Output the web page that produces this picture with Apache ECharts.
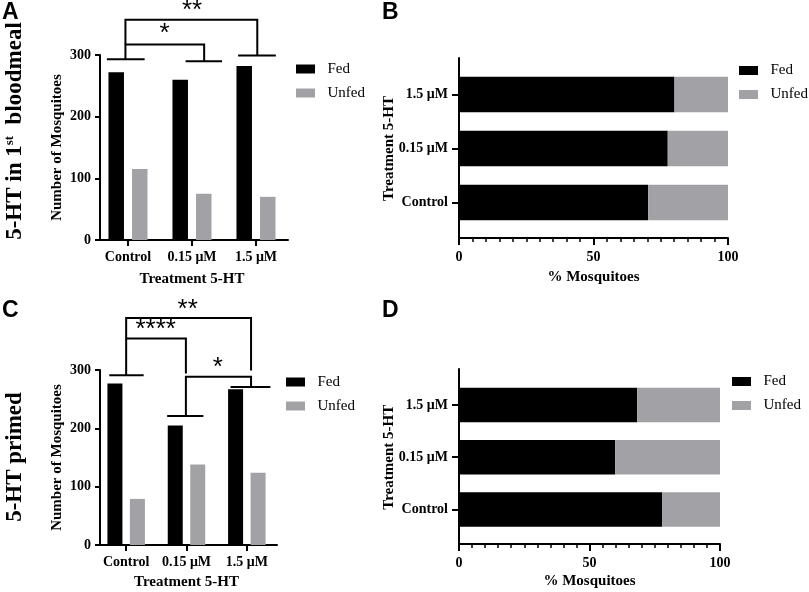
<!DOCTYPE html>
<html><head><meta charset="utf-8">
<script src="https://cdn.jsdelivr.net/npm/echarts@6.0.0/dist/echarts.min.js"></script>
<style>html,body{margin:0;padding:0;background:#fff}#c{width:809px;height:592px}</style>
</head><body><div id="c"></div>
<script>
// ---- data ----
const categories = ['Control', '0.15 μM', '1.5 μM'];
const countTicks = [0, 100, 200, 300];
const pctTicks = [0, 50, 100];
const fedA = [272, 260, 282];
const unfedA = [115, 75, 70];
const fedPctB = [70.3, 77.6, 80.1];
const unfedPctB = [29.7, 22.4, 19.9];
const fedC = [277, 205, 267];
const unfedC = [79, 138, 124];
const fedPctD = [77.8, 59.8, 68.3];
const unfedPctD = [22.2, 40.2, 31.7];
// significance brackets in data units: [category position (0..3), count]
const bracketsA = [
  [[0.17, 293], [0.76, 293]],
  [[1.40, 290], [1.97, 290]],
  [[2.22, 299], [2.81, 299]],
  [[0.46, 293], [0.46, 317], [1.69, 317], [1.69, 290]],
  [[0.46, 317], [0.46, 357], [2.52, 357], [2.52, 299]]
];
const starLabelsA = ['*', '**'];
const starPosA = [[1.07, 334], [1.50, 372]];
const bracketsC = [
  [[0.22, 291], [0.79, 291]],
  [[1.18, 221], [1.78, 221]],
  [[2.23, 271], [2.89, 271]],
  [[0.50, 291], [0.50, 354], [1.49, 354], [1.49, 294]],
  [[1.49, 221], [1.49, 288.5], [2.57, 288.5], [2.57, 271]],
  [[0.50, 354], [0.50, 389], [2.57, 389], [2.57, 299]]
];
const starLabelsC = ['**', '****', '*'];
const starPosC = [[1.52, 404], [0.99, 369], [2.02, 304]];

// ---- styles ----
const BLACK = '#000000', GRAY = '#a2a2a6';
const SERIF = 'Liberation Serif';
const SANS = 'Liberation Sans';
const lineSt = {color: BLACK, width: 2};
const labelSt = {fontFamily: SERIF, fontWeight: 'bold', fontSize: 14, color: BLACK};
const nameSt = {fontFamily: SERIF, fontWeight: 'bold', fontSize: 15, color: BLACK};

function countAxis(grid, offset) {
  return {type: 'value', gridIndex: grid, min: countTicks[0], max: countTicks[countTicks.length - 1],
    interval: countTicks[1] - countTicks[0], offset: offset,
    axisLine: {show: true, lineStyle: lineSt}, axisTick: {show: true, length: 5, lineStyle: lineSt},
    axisLabel: Object.assign({margin: 9}, labelSt), splitLine: {show: false},
    name: 'Number of Mosquitoes', nameLocation: 'middle', nameGap: 35, nameTextStyle: nameSt, nameMoveOverlap: false};
}
function catXAxis(grid, gap) {
  return {type: 'category', gridIndex: grid, data: categories,
    axisLine: {show: true, lineStyle: lineSt}, axisTick: {show: true, alignWithLabel: true, length: 6, lineStyle: lineSt},
    axisLabel: Object.assign({margin: 10, interval: 0}, labelSt),
    name: 'Treatment 5-HT', nameLocation: 'middle', nameGap: gap, nameTextStyle: nameSt, nameMoveOverlap: false};
}
function hiddenX(grid, max) {
  return {type: 'value', gridIndex: grid, min: 0, max: max, show: false, splitLine: {show: false}};
}
function pctAxis(grid, gap) {
  return {type: 'value', gridIndex: grid, min: pctTicks[0], max: pctTicks[pctTicks.length - 1],
    interval: pctTicks[1] - pctTicks[0],
    axisLine: {show: true, lineStyle: lineSt}, axisTick: {show: true, length: 7, lineStyle: lineSt},
    minorTick: {show: true, splitNumber: 10, length: 4, lineStyle: {color: BLACK, width: 1.5}},
    axisLabel: Object.assign({margin: 12}, labelSt), splitLine: {show: false}, minorSplitLine: {show: false},
    name: '% Mosquitoes', nameLocation: 'middle', nameGap: gap, nameTextStyle: nameSt, nameMoveOverlap: false};
}
function frameY(grid) {
  return {type: 'value', gridIndex: grid, min: 0, max: 1, axisLine: {show: true, lineStyle: lineSt},
    axisTick: {show: false}, axisLabel: {show: false}, splitLine: {show: false}};
}
function catYAxis(grid) {
  return {type: 'category', gridIndex: grid, data: categories,
    axisLine: {show: false}, axisTick: {show: true, alignWithLabel: true, length: 7, lineStyle: lineSt},
    axisLabel: Object.assign({margin: 11, interval: 0}, labelSt),
    name: 'Treatment 5-HT', nameLocation: 'middle', nameGap: 62, nameTextStyle: nameSt, nameMoveOverlap: false};
}
function bracketSeries(xi, yi, brackets) {
  return {type: 'custom', xAxisIndex: xi, yAxisIndex: yi, silent: true, z: 5, clip: false,
    data: brackets.map(b => b[0]),
    renderItem: (p, api) => ({type: 'polyline',
      shape: {points: brackets[p.dataIndex].map(pt => api.coord(pt))},
      style: {stroke: BLACK, lineWidth: 2, fill: null, lineJoin: 'miter'}})};
}
function starSeries(xi, yi, pos, labels) {
  return {type: 'custom', xAxisIndex: xi, yAxisIndex: yi, silent: true, z: 5, clip: false,
    data: pos,
    renderItem: (p, api) => {
      const c = api.coord(pos[p.dataIndex]);
      return {type: 'text', x: c[0], y: c[1], style: {text: labels[p.dataIndex], fill: BLACK,
        fontSize: 26, fontFamily: SANS, align: 'center', verticalAlign: 'middle'}};
    }};
}
function legendAt(left, top) {
  return {left: left, top: top, orient: 'vertical', itemWidth: 19, itemHeight: 9, itemGap: 9, icon: 'rect',
    selectedMode: false, padding: 0, data: ['Fed', 'Unfed'],
    formatter: name => '\u00a0\u00a0' + name,
    textStyle: {fontFamily: SERIF, fontWeight: 'normal', fontSize: 15, color: BLACK}};
}

const option = {
  animation: false,
  backgroundColor: '#ffffff',
  textStyle: {fontFamily: SERIF},
  grid: [
    {left: 96, top: 55, width: 192, height: 185, outerBoundsMode: 'none'},
    {left: 459, top: 58, width: 269, height: 180, outerBoundsMode: 'none'},
    {left: 459, top: 67.5, width: 269, height: 162, outerBoundsMode: 'none'},
    {left: 96, top: 370, width: 181, height: 175, outerBoundsMode: 'none'},
    {left: 459, top: 369, width: 261, height: 175, outerBoundsMode: 'none'},
    {left: 459, top: 378.9, width: 261, height: 156.7, outerBoundsMode: 'none'}
  ],
  xAxis: [
    catXAxis(0, 32),      // 0
    hiddenX(0, 3),        // 1
    pctAxis(1, 32),       // 2
    hiddenX(2, 100),      // 3
    catXAxis(3, 30),      // 4
    hiddenX(3, 3),        // 5
    pctAxis(4, 30),       // 6
    hiddenX(5, 100)       // 7
  ],
  yAxis: [
    countAxis(0, -4),     // 0
    frameY(1),            // 1
    catYAxis(2),          // 2
    countAxis(3, -4),     // 3
    frameY(4),            // 4
    catYAxis(5)           // 5
  ],
  legend: [
    legendAt(296, 61.5),
    legendAt(739, 63),
    legendAt(286, 374.5),
    legendAt(732, 374)
  ],
  series: [
    {type: 'bar', name: 'Fed', xAxisIndex: 0, yAxisIndex: 0, data: fedA, barWidth: 15.5, barGap: '52%', itemStyle: {color: BLACK}},
    {type: 'bar', name: 'Unfed', xAxisIndex: 0, yAxisIndex: 0, data: unfedA, barWidth: 15.5, barGap: '52%', itemStyle: {color: GRAY}},
    bracketSeries(1, 0, bracketsA),
    starSeries(1, 0, starPosA, starLabelsA),
    {type: 'bar', name: 'Fed', xAxisIndex: 3, yAxisIndex: 2, stack: 'B', data: fedPctB, barCategoryGap: '34%', itemStyle: {color: BLACK}},
    {type: 'bar', name: 'Unfed', xAxisIndex: 3, yAxisIndex: 2, stack: 'B', data: unfedPctB, barCategoryGap: '34%', itemStyle: {color: GRAY}},
    {type: 'bar', name: 'Fed', xAxisIndex: 4, yAxisIndex: 3, data: fedC, barWidth: 15, barGap: '50%', itemStyle: {color: BLACK}},
    {type: 'bar', name: 'Unfed', xAxisIndex: 4, yAxisIndex: 3, data: unfedC, barWidth: 15, barGap: '50%', itemStyle: {color: GRAY}},
    bracketSeries(5, 3, bracketsC),
    starSeries(5, 3, starPosC, starLabelsC),
    {type: 'bar', name: 'Fed', xAxisIndex: 7, yAxisIndex: 5, stack: 'D', data: fedPctD, barCategoryGap: '34%', itemStyle: {color: BLACK}},
    {type: 'bar', name: 'Unfed', xAxisIndex: 7, yAxisIndex: 5, stack: 'D', data: unfedPctD, barCategoryGap: '34%', itemStyle: {color: GRAY}}
  ],
  graphic: [
    {type: 'text', x: 2, y: 1, style: {text: 'A', fill: BLACK, fontFamily: SANS, fontWeight: 'bold', fontSize: 23, verticalAlign: 'top'}},
    {type: 'text', x: 382, y: 1, style: {text: 'B', fill: BLACK, fontFamily: SANS, fontWeight: 'bold', fontSize: 23, verticalAlign: 'top'}},
    {type: 'text', x: 2, y: 299, style: {text: 'C', fill: BLACK, fontFamily: SANS, fontWeight: 'bold', fontSize: 23, verticalAlign: 'top'}},
    {type: 'text', x: 382, y: 299, style: {text: 'D', fill: BLACK, fontFamily: SANS, fontWeight: 'bold', fontSize: 23, verticalAlign: 'top'}},
    {type: 'text', x: 15, y: 131, rotation: Math.PI / 2, style: {
      text: '5-HT in 1{s|st}  bloodmeal', fill: BLACK, fontFamily: SERIF, fontWeight: 'bold', fontSize: 23,
      align: 'center', verticalAlign: 'middle',
      rich: {s: {fontFamily: SERIF, fontWeight: 'bold', fontSize: 13, fill: BLACK, verticalAlign: 'top'}}}},
    {type: 'text', x: 15, y: 457, rotation: Math.PI / 2, style: {
      text: '5-HT primed', fill: BLACK, fontFamily: SERIF, fontWeight: 'bold', fontSize: 23,
      align: 'center', verticalAlign: 'middle'}}
  ]
};
const chart = echarts.init(document.getElementById('c'), null, {renderer: 'canvas'});
chart.setOption(option);
</script>
</body></html>
